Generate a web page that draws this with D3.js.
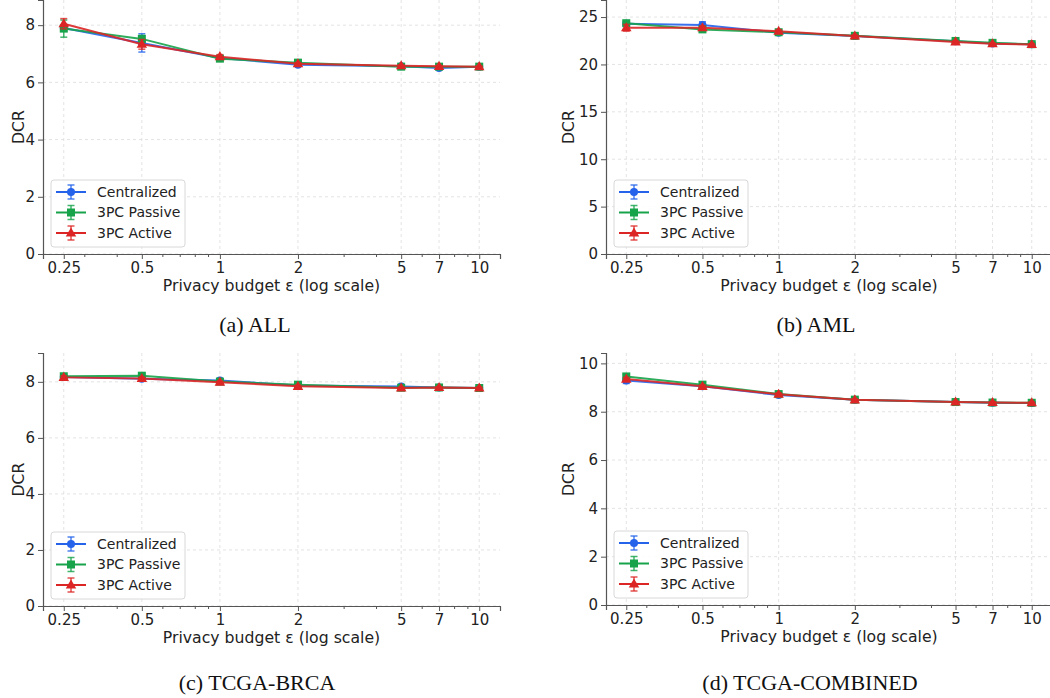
<!DOCTYPE html>
<html>
<head>
<meta charset="utf-8">
<script src="https://cdn.jsdelivr.net/npm/d3@7"></script>
<style>
  body { margin: 0; background: #fff; }
  svg { display: block; }
  .tick-label { font-family: "DejaVu Sans", sans-serif; font-size: 15px; fill: #222; }
  .axis-label { font-family: "DejaVu Sans", sans-serif; font-size: 15.7px; fill: #222; }
  .legend-text { font-family: "DejaVu Sans", sans-serif; font-size: 14px; fill: #222; }
  .caption { font-family: "Liberation Serif", serif; font-size: 22px; fill: #111; }
</style>
</head>
<body>
<script>
// privacy budgets and their tick labels
const epsilons = [0.25, 0.5, 1, 2, 5, 7, 10];
const epsLabels = ["0.25", "0.5", "1", "2", "5", "7", "10"];
const seriesNames = ["Centralized", "3PC Passive", "3PC Active"];
const seriesColors = ["#2563eb", "#16a34a", "#dc2626"];
const seriesMarkers = ["circle", "square", "triangle"];

// DCR means / std per dataset, rows = Centralized, 3PC Passive, 3PC Active
const allMeans = [
    [7.90, 7.38, 6.85, 6.62, 6.56, 6.50, 6.55],
    [7.88, 7.52, 6.83, 6.69, 6.55, 6.55, 6.55],
    [8.05, 7.33, 6.90, 6.65, 6.58, 6.56, 6.55]
];
const allErrs = [
    [0.10, 0.32, 0.06, 0.04, 0.03, 0.03, 0.03],
    [0.30, 0.12, 0.05, 0.04, 0.03, 0.03, 0.02],
    [0.18, 0.17, 0.07, 0.04, 0.03, 0.03, 0.02]
];

const amlMeans = [
    [24.30, 24.15, 23.35, 23.00, 22.45, 22.22, 22.12],
    [24.35, 23.70, 23.40, 23.02, 22.48, 22.28, 22.14],
    [23.87, 23.87, 23.50, 23.00, 22.38, 22.18, 22.10]
];
const amlErrs = [
    [0.20, 0.35, 0.15, 0.10, 0.10, 0.10, 0.08],
    [0.25, 0.20, 0.15, 0.10, 0.10, 0.08, 0.08],
    [0.35, 0.20, 0.15, 0.10, 0.10, 0.08, 0.08]
];

const brcaMeans = [
    [8.17, 8.11, 8.05, 7.87, 7.83, 7.80, 7.78],
    [8.20, 8.22, 8.01, 7.90, 7.79, 7.80, 7.78],
    [8.16, 8.12, 7.99, 7.84, 7.78, 7.80, 7.78]
];
const brcaErrs = [
    [0.06, 0.05, 0.04, 0.04, 0.03, 0.03, 0.03],
    [0.07, 0.06, 0.04, 0.04, 0.03, 0.03, 0.03],
    [0.06, 0.05, 0.04, 0.04, 0.03, 0.03, 0.03]
];

const combinedMeans = [
    [9.29, 9.05, 8.69, 8.49, 8.40, 8.37, 8.36],
    [9.46, 9.12, 8.73, 8.50, 8.40, 8.38, 8.37],
    [9.35, 9.05, 8.72, 8.49, 8.40, 8.38, 8.37]
];
const combinedErrs = [
    [0.12, 0.06, 0.05, 0.04, 0.03, 0.03, 0.03],
    [0.08, 0.06, 0.05, 0.04, 0.03, 0.03, 0.03],
    [0.07, 0.06, 0.05, 0.04, 0.03, 0.03, 0.03]
];

const minorTicks = [0.3, 0.4, 0.6, 0.7, 0.8, 0.9, 3, 4, 6, 8, 9];

const panels = [
    { means: allMeans, errs: allErrs, ymax: 8.88, yticks: [0, 2, 4, 6, 8], caption: "(a) ALL",
      left: 43, right: 500, top: 0, bottom: 254, ylabelOff: 25, capX: 255, capY: 324 },
    { means: amlMeans, errs: amlErrs, ymax: 26.8, yticks: [0, 5, 10, 15, 20, 25], caption: "(b) AML",
      left: 606, right: 1052, top: 0, bottom: 254, ylabelOff: 38, capX: 816, capY: 324 },
    { means: brcaMeans, errs: brcaErrs, ymax: 9.03, yticks: [0, 2, 4, 6, 8], caption: "(c) TCGA-BRCA",
      left: 43, right: 500, top: 353, bottom: 606, ylabelOff: 25, capX: 257, capY: 682 },
    { means: combinedMeans, errs: combinedErrs, ymax: 10.43, yticks: [0, 2, 4, 6, 8, 10], caption: "(d) TCGA-COMBINED",
      left: 606, right: 1052, top: 353, bottom: 605, ylabelOff: 38, capX: 810, capY: 682 }
];

const svg = d3.select("body").append("svg")
    .attr("width", 1050)
    .attr("height", 698);

// matplotlib style 5% margin in log space
const pad = Math.pow(10, 0.05 * Math.log10(10 / 0.25));
const xDomain = [0.25 / pad, 10 * pad];

function drawMarker(g, type, x, y, color) {
    if (type === "circle") {
        g.append("circle").attr("cx", x).attr("cy", y).attr("r", 4).attr("fill", color);
    } else if (type === "square") {
        g.append("rect").attr("x", x - 4).attr("y", y - 4).attr("width", 8).attr("height", 8).attr("fill", color);
    } else {
        g.append("path")
            .attr("d", d3.symbol().type(d3.symbolTriangle).size(48)())
            .attr("transform", "translate(" + x + "," + (y + 0.5) + ")")
            .attr("fill", color);
    }
}

function drawErrorBar(g, x, y1, y2, color) {
    g.append("line").attr("x1", x).attr("x2", x).attr("y1", y1).attr("y2", y2)
        .attr("stroke", color).attr("stroke-width", 1.5).attr("opacity", 0.8);
    [y1, y2].forEach(yy => {
        g.append("line").attr("x1", x - 3.5).attr("x2", x + 3.5).attr("y1", yy).attr("y2", yy)
            .attr("stroke", color).attr("stroke-width", 1.5).attr("opacity", 0.8);
    });
}

function drawPanel(p) {
    const x = d3.scaleLog().domain(xDomain).range([p.left, p.right]);
    const y = d3.scaleLinear().domain([0, p.ymax]).range([p.bottom, p.top]);
    const g = svg.append("g");

    // grid
    const grid = g.append("g").attr("stroke", "#dcdcdc").attr("stroke-width", 0.8)
        .attr("stroke-dasharray", "3,3");
    epsilons.forEach(e => {
        grid.append("line").attr("x1", x(e)).attr("x2", x(e)).attr("y1", p.top).attr("y2", p.bottom);
    });
    p.yticks.forEach(t => {
        grid.append("line").attr("x1", p.left).attr("x2", p.right).attr("y1", y(t)).attr("y2", y(t));
    });

    // x axis
    const xAxis = d3.axisBottom(x)
        .tickValues(epsilons)
        .tickFormat((d, i) => epsLabels[i])
        .tickSize(5)
        .tickPadding(3);
    const xg = g.append("g").attr("transform", "translate(0," + p.bottom + ")").call(xAxis);
    xg.select(".domain").attr("stroke", "#555").attr("stroke-width", 1.2);
    xg.selectAll(".tick line").attr("stroke", "#555");
    xg.selectAll(".tick text").attr("class", "tick-label");
    xg.attr("font-size", null).attr("font-family", null);

    const xMinor = d3.axisBottom(x).tickValues(minorTicks).tickFormat("").tickSize(3);
    const xm = g.append("g").attr("transform", "translate(0," + p.bottom + ")").call(xMinor);
    xm.select(".domain").remove();
    xm.selectAll(".tick line").attr("stroke", "#555");

    // y axis
    const yAxis = d3.axisLeft(y).tickValues(p.yticks).tickSize(5).tickPadding(3);
    const yg = g.append("g").attr("transform", "translate(" + p.left + ",0)").call(yAxis);
    yg.select(".domain").attr("stroke", "#555").attr("stroke-width", 1.2);
    yg.selectAll(".tick line").attr("stroke", "#555");
    yg.selectAll(".tick text").attr("class", "tick-label");
    yg.attr("font-size", null).attr("font-family", null);

    // axis labels (centre of the axis, right edge may run past the page)
    g.append("text").attr("class", "axis-label")
        .attr("x", (p.left + p.right) / 2)
        .attr("y", p.bottom + 37)
        .attr("text-anchor", "middle")
        .text("Privacy budget ε (log scale)");
    g.append("text").attr("class", "axis-label")
        .attr("transform", "translate(" + (p.left - p.ylabelOff) + "," + ((p.top + p.bottom) / 2) + ") rotate(-90)")
        .attr("text-anchor", "middle")
        .attr("dy", "0.35em")
        .text("DCR");

    // series
    const line = d3.line().x(d => x(d.e)).y(d => y(d.m));
    seriesNames.forEach((name, s) => {
        const pts = epsilons.map((e, i) => ({ e: e, m: p.means[s][i], err: p.errs[s][i] }));
        const sg = g.append("g");
        pts.forEach(d => drawErrorBar(sg, x(d.e), y(d.m - d.err), y(d.m + d.err), seriesColors[s]));
        sg.append("path").datum(pts).attr("d", line)
            .attr("fill", "none").attr("stroke", seriesColors[s]).attr("stroke-width", 2)
            .attr("opacity", 0.9);
        pts.forEach(d => drawMarker(sg, seriesMarkers[s], x(d.e), y(d.m), seriesColors[s]));
    });

    // legend
    const lx = p.left + 8, ly = p.bottom - 74;
    const lg = g.append("g");
    lg.append("rect").attr("x", lx).attr("y", ly).attr("width", 134).attr("height", 67)
        .attr("rx", 3).attr("fill", "#fff").attr("fill-opacity", 0.85)
        .attr("stroke", "#d8d8d8").attr("stroke-width", 1);
    seriesNames.forEach((name, s) => {
        const yy = ly + 12 + s * 20.5;
        lg.append("line").attr("x1", lx + 5).attr("x2", lx + 35).attr("y1", yy).attr("y2", yy)
            .attr("stroke", seriesColors[s]).attr("stroke-width", 2);
        drawErrorBar(lg, lx + 20, yy - 7, yy + 7, seriesColors[s]);
        drawMarker(lg, seriesMarkers[s], lx + 20, yy, seriesColors[s]);
        lg.append("text").attr("class", "legend-text")
            .attr("x", lx + 46).attr("y", yy).attr("dy", "0.35em").text(name);
    });

    // caption
    svg.append("text").attr("class", "caption")
        .attr("x", p.capX).attr("y", p.capY).attr("dy", "0.35em")
        .attr("text-anchor", "middle").text(p.caption);
}

panels.forEach(drawPanel);
</script>
</body>
</html>
